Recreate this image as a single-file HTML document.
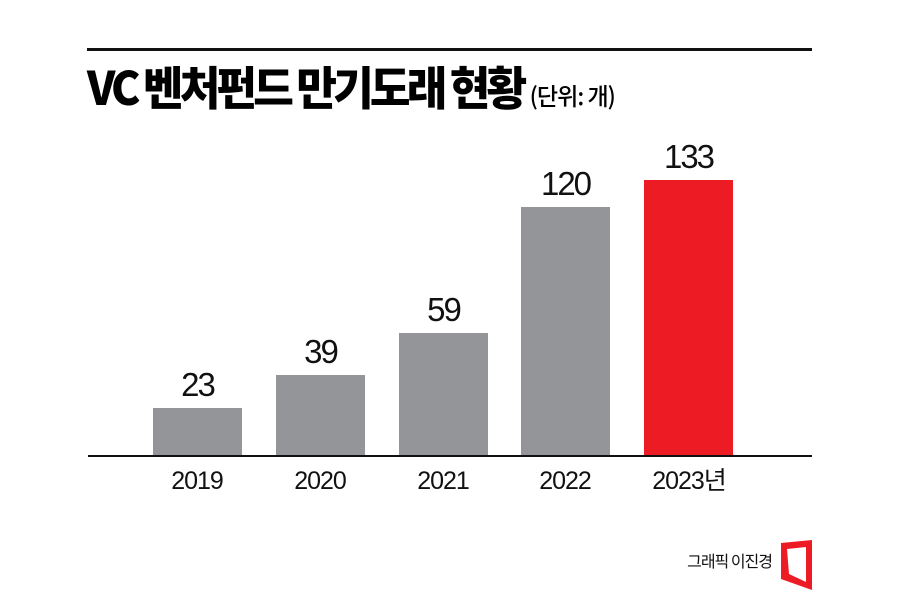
<!DOCTYPE html>
<html><head><meta charset="utf-8"><style>
body{margin:0;width:900px;height:592px;background:#fff;position:relative;overflow:hidden;font-family:"Liberation Sans","Noto Sans CJK KR",sans-serif;}
.a{position:absolute;}
.bar{position:absolute;width:89px;background:#939598;}
.v{position:absolute;width:89px;text-align:center;font-size:33px;line-height:40px;letter-spacing:-2px;color:#111;}
.y{position:absolute;width:120px;text-align:center;font-size:25px;line-height:30px;letter-spacing:-1px;color:#111;top:466px;}
</style></head><body>
<div class="a" style="left:87px;top:48px;width:725px;height:3px;background:#111"></div>
<div class="a" style="left:87px;top:56px;font-family:'Noto Sans CJK KR',sans-serif;font-weight:900;font-size:46px;line-height:60px;letter-spacing:-4px;color:#000;white-space:nowrap;transform:scaleX(0.96);transform-origin:left">VC 벤처펀드 만기도래 현황 <span style="font-size:24px;font-weight:500;letter-spacing:-1px">(단위: 개)</span></div>

<div class="bar" style="left:153px;top:408px;height:48px"></div>
<div class="bar" style="left:276px;top:375px;height:81px"></div>
<div class="bar" style="left:399px;top:333px;height:123px"></div>
<div class="bar" style="left:521px;top:207px;height:249px"></div>
<div class="bar" style="left:644px;top:180px;height:276px;background:#ed1c24"></div>

<div class="v" style="left:153px;top:365px">23</div>
<div class="v" style="left:276px;top:332px">39</div>
<div class="v" style="left:399px;top:290px">59</div>
<div class="v" style="left:521px;top:164px">120</div>
<div class="v" style="left:644px;top:137px">133</div>

<div class="a" style="left:88px;top:455px;width:724px;height:2px;background:#111"></div>

<div class="y" style="left:137px">2019</div>
<div class="y" style="left:260px">2020</div>
<div class="y" style="left:383px">2021</div>
<div class="y" style="left:505px">2022</div>
<div class="y" style="left:628px;width:122px">2023년</div>

<div class="a" style="left:660px;top:548px;width:112px;text-align:right;font-family:'Noto Sans CJK KR',sans-serif;font-size:16px;line-height:24px;letter-spacing:-1px;color:#111">그래픽 이진경</div>
<svg class="a" style="left:776px;top:538px" width="40" height="54"><polygon points="5,5 36,2 36,52 5,41" fill="#ed1c24"/><polygon points="11,11 30,9 30,44 13,36" fill="#fff"/></svg>
</body></html>
